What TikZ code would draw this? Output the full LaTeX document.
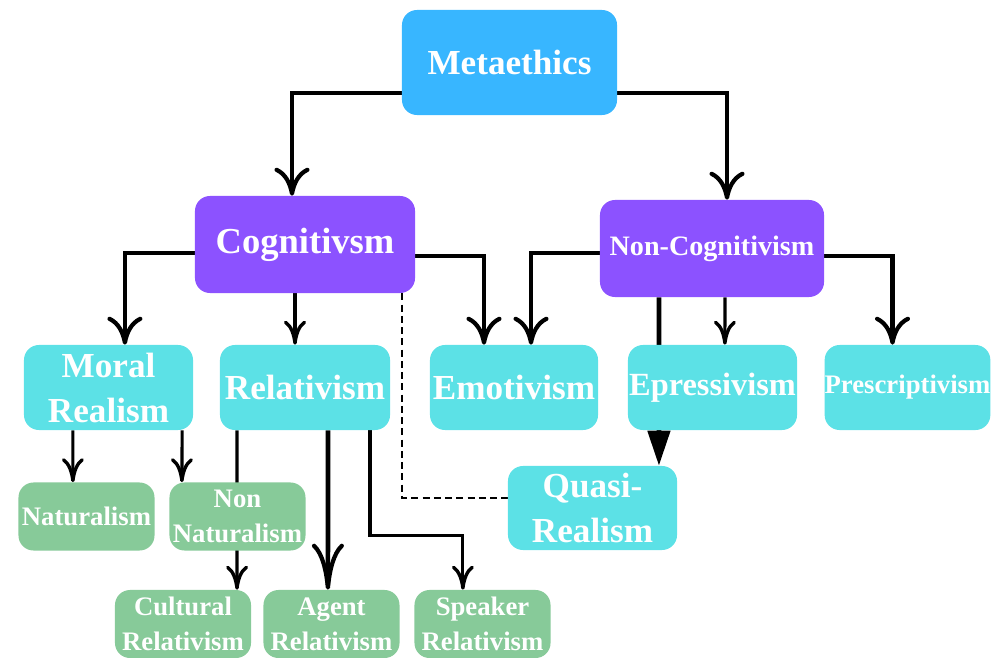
\documentclass[tikz,border=0pt]{standalone}
\usepackage{xcolor}
\usepackage{fontspec}
\setmainfont{Liberation Serif}
\usepackage{tikz}
\usetikzlibrary{arrows.meta}
\usetikzlibrary{backgrounds}

\definecolor{metablue}{HTML}{38B6FF}
\definecolor{cogpurple}{HTML}{8C52FF}
\definecolor{schoolcyan}{HTML}{5CE1E6}
\definecolor{leafgreen}{HTML}{87CA99}

\tikzset{
  box/.style={rounded corners=0.375cm, align=center, text=white, font=\bfseries, inner sep=0pt},
  topbox/.style={box, fill=metablue, minimum width=5.375cm, minimum height=2.625cm, font=\bfseries\fontsize{25}{32}\selectfont},
  catbox/.style={box, fill=cogpurple, minimum width=5.5cm, minimum height=2.425cm},
  schoolbox/.style={box, fill=schoolcyan, minimum width=4.225cm, minimum height=2.125cm, font=\bfseries\fontsize{25}{32}\selectfont},
  leafbox/.style={box, fill=leafgreen, minimum width=3.4cm, minimum height=1.7cm, font=\bfseries\fontsize{19}{25}\selectfont},
  thickarrow/.style={line width=3.3pt, -{Computer Modern Rightarrow[length=0.7cm,width=0.875cm,line width=3pt]}},
  thinarrow/.style={line width=2.2pt, -{Computer Modern Rightarrow[length=0.6cm,width=0.55cm,line width=2.4pt]}},
}

\begin{document}
\begin{tikzpicture}[x=0.025cm,y=-0.025cm]
\useasboundingbox (0,0) rectangle (991,657);

% top and the two camps
\node[topbox] (meta) at (509.5,62.5) {Metaethics};
\node[catbox, font=\bfseries\fontsize{26}{32}\selectfont] (cog) at (305,244.5) {Cognitivsm};
\node[catbox, minimum width=5.6cm, font=\bfseries\fontsize{20}{24}\selectfont] (noncog) at (712,248.5) {Non-Cognitivism};

% schools
\node[schoolbox] (moral) at (108.5,387.5) {Moral\\Realism};
\node[schoolbox, minimum width=4.25cm] (rel) at (305,387.5) {Relativism};
\node[schoolbox, minimum width=4.2cm] (emo) at (514,387.5) {Emotivism};
\node[schoolbox, font=\bfseries\fontsize{23}{30}\selectfont] (epr) at (712.5,387.5) {Epressivism};
\node[schoolbox, minimum width=4.125cm, font=\bfseries\fontsize{19}{24}\selectfont] (pre) at (907.5,387.5) {Prescriptivism};
\node[schoolbox, minimum height=2.1cm] (quasi) at (592.5,508) {Quasi-\\Realism};

% leaves
\node[leafbox] (nat) at (86.5,516.5) {Naturalism};
\node[leafbox] (nonnat) at (237.5,516.5) {Non\\Naturalism};
\node[leafbox] (cult) at (183,624) {Cultural\\Relativism};
\node[leafbox] (agent) at (331.5,624) {Agent\\Relativism};
\node[leafbox] (speak) at (482.5,624) {Speaker\\Relativism};

\begin{scope}[on background layer]
\draw[thickarrow] ([yshift=-0.76cm]meta.west) -| ([xshift=-0.325cm]cog.north);
\draw[thickarrow] ([yshift=-0.76cm]meta.east) -| ([xshift=0.375cm]noncog.north);

\draw[thickarrow] ([yshift=-0.21cm]cog.west) -| ([xshift=0.41cm]moral.north);
\draw[thinarrow] ([xshift=-0.25cm]cog.south) -- ([xshift=-0.25cm]rel.north);
\draw[thickarrow] ([yshift=-0.29cm]cog.east) -| ([xshift=-0.75cm]emo.north);
\draw[line width=1.5pt, dash pattern=on 5pt off 3pt] ([xshift=-0.325cm]cog.south east) |- ([yshift=0.25cm]quasi.west);

\draw[thickarrow] ([yshift=-0.11cm]noncog.west) -| ([xshift=0.425cm]emo.north);
\draw[line width=3.3pt, -{Triangle[length=0.875cm,width=0.55cm]}] ([xshift=-1.325cm]noncog.south) -- ([xshift=1.66cm]quasi.north);
\draw[thinarrow] ([xshift=0.325cm]noncog.south) -- ([xshift=0.31cm]epr.north);
\draw[thickarrow] ([yshift=-0.19cm]noncog.east) -| ([xshift=-0.375cm]pre.north);

\draw[thinarrow] ([xshift=-0.89cm]moral.south) -- ([xshift=-0.34cm]nat.north);
\draw[thinarrow] ([xshift=1.84cm]moral.south) -- ([xshift=-1.39cm]nonnat.north);
\draw[thinarrow] ([xshift=-1.7cm]rel.south) -- ([xshift=1.35cm]cult.north);
\draw[line width=3.3pt, -{Computer Modern Rightarrow[length=1.15cm,width=0.8cm,line width=3pt]}] ([xshift=0.575cm]rel.south) -- ([xshift=-0.09cm]agent.north);
\draw[thinarrow] ([xshift=1.625cm]rel.south) -- ++(0,105) -| ([xshift=-0.49cm]speak.north);
\end{scope}
\end{tikzpicture}
\end{document}
